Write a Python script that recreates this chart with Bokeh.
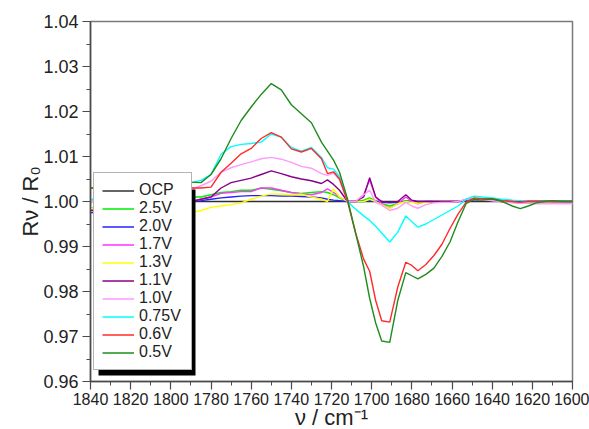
from bokeh.plotting import figure
from bokeh.models import Range1d, SingleIntervalTicker, PrintfTickFormatter
from bokeh.embed import file_html
from bokeh.resources import INLINE

# ---------------- data ----------------
wavenumber = [1840, 1830, 1820, 1810, 1800, 1795, 1790, 1785, 1780, 1775,
              1770, 1765, 1760, 1755, 1750, 1745, 1740, 1735, 1730, 1725,
              1722, 1719, 1716, 1712, 1708, 1704, 1701, 1698, 1695, 1691,
              1687, 1683, 1680, 1677, 1673, 1669, 1665, 1661, 1657, 1653,
              1649, 1645, 1640, 1635, 1630, 1626, 1622, 1618, 1614, 1610,
              1605, 1600]

ocp = [1.0, 1.0, 1.0, 1.0, 1.0, 1.0, 1.0, 1.0, 1.0, 1.0,
       1.0, 1.0, 1.0, 1.0, 1.0, 1.0, 1.0, 1.0, 1.0, 1.0,
       1.0, 1.0, 1.0, 1.0, 1.0, 1.0, 1.0, 1.0, 1.0, 1.0,
       1.0, 1.0, 1.0, 1.0, 1.0, 1.0, 1.0, 1.0, 1.0, 1.0,
       1.0, 1.0, 1.0, 1.0, 1.0, 1.0, 1.0, 1.0, 1.0, 1.0,
       1.0, 1.0]

v25 = [0.9985, 0.999, 0.9995, 1.0, 1.0005, 1.0008, 1.001, 1.001, 1.0015, 1.002,
       1.0022, 1.0025, 1.0025, 1.003, 1.0027, 1.0024, 1.002, 1.0018, 1.002, 1.0022,
       1.002, 1.0015, 1.0008, 1.0, 1.0, 1.0003, 1.0008, 1.0002, 0.9995, 0.999,
       0.9995, 1.0002, 1.0, 0.9998, 1.0, 1.0, 1.0, 1.0, 1.0, 1.0003,
       1.0006, 1.0005, 1.0004, 1.0002, 1.0, 0.9998, 1.0, 1.0, 1.0, 1.0,
       1.0, 1.0]

v20 = [0.9975, 0.998, 0.9985, 0.999, 0.9995, 0.9998, 1.0, 1.0002, 1.0005, 1.0008,
       1.001, 1.0012, 1.0013, 1.0013, 1.0013, 1.0012, 1.0012, 1.0011, 1.001, 1.0008,
       1.0005, 1.0003, 1.0002, 1.0, 1.0, 1.0, 1.0002, 1.0, 0.9998, 0.9997,
       0.9998, 1.0, 1.0, 1.0, 1.0, 1.0, 1.0, 1.0, 1.0, 1.0002,
       1.0004, 1.0003, 1.0002, 1.0, 1.0, 1.0, 1.0, 1.0, 1.0, 1.0,
       1.0, 1.0]

v17 = [0.998, 0.998, 0.9985, 0.9988, 0.999, 0.9995, 1.0, 1.0005, 1.001, 1.0018,
       1.002, 1.0022, 1.0022, 1.003, 1.003, 1.0025, 1.002, 1.0017, 1.0015, 1.002,
       1.0028, 1.002, 1.001, 1.0, 1.0, 1.0015, 1.0048, 1.001, 0.9995, 0.9985,
       0.9995, 1.001, 1.0, 0.9995, 1.0, 1.0, 1.0, 1.0, 1.0, 1.0004,
       1.0006, 1.0005, 1.0003, 1.0, 0.9998, 0.9997, 0.9998, 1.0, 1.0, 1.0,
       0.9998, 0.9998]

v13 = [0.9985, 0.998, 0.998, 0.998, 0.998, 0.9975, 0.9975, 0.998, 0.9987, 0.999,
       0.9993, 0.9997, 1.0005, 1.0012, 1.0017, 1.0016, 1.0015, 1.0016, 1.001, 1.0005,
       1.0, 1.0028, 1.001, 1.0, 1.0, 1.0, 1.0005, 1.0, 0.9993, 0.9984,
       0.9995, 1.0, 0.9998, 0.9996, 0.9998, 1.0, 1.0, 1.0, 1.0, 1.0003,
       1.0005, 1.0004, 1.0002, 1.0, 0.9998, 0.9996, 0.9998, 0.9998, 0.9998, 0.9997,
       0.9996, 0.9996]

v11 = [0.998, 0.9985, 0.999, 0.9995, 0.9998, 1.0, 1.0, 1.0005, 1.001, 1.003,
       1.0042, 1.0047, 1.0052, 1.006, 1.0068, 1.0062, 1.0055, 1.005, 1.0046, 1.004,
       1.0048, 1.0038, 1.0025, 1.0, 1.0, 1.001, 1.0053, 1.001, 1.0, 0.9998,
       1.0, 1.0015, 1.0003, 1.0, 1.0, 1.0, 1.0, 1.0, 1.0, 1.0003,
       1.0005, 1.0005, 1.0003, 1.0, 1.0, 1.0, 1.0, 1.0, 1.0, 1.0,
       1.0, 1.0]

v10 = [1.0, 1.0005, 1.001, 1.001, 1.0012, 1.002, 1.0027, 1.0035, 1.0045, 1.0065,
       1.0075, 1.0082, 1.0088, 1.0095, 1.0098, 1.0094, 1.0087, 1.0078, 1.0074, 1.0062,
       1.0058, 1.0063, 1.0048, 1.0, 1.0, 1.0015, 1.0025, 0.9998, 0.9992, 0.998,
       0.9985, 0.9998, 0.999, 0.9985, 0.9993, 0.9997, 0.9998, 0.9998, 1.0, 1.0005,
       1.0006, 1.0004, 1.0002, 1.0, 0.9997, 0.9996, 0.9996, 0.9995, 0.9995, 0.9995,
       0.9995, 0.9995]

v075 = [1.0005, 1.0005, 1.001, 1.002, 1.0035, 1.004, 1.0042, 1.0047, 1.006, 1.0105,
        1.0122, 1.0127, 1.0129, 1.0132, 1.015, 1.0143, 1.012, 1.0112, 1.012, 1.0098,
        1.0075, 1.0072, 1.0055, 1.0, 0.9983, 0.9968, 0.9958, 0.9945, 0.993, 0.991,
        0.9932, 0.9968, 0.9955, 0.9943, 0.995, 0.996, 0.997, 0.998, 0.999, 1.0005,
        1.0012, 1.001, 1.0008, 1.0005, 1.0003, 1.0002, 1.0, 1.0, 1.0, 1.0,
        1.0, 1.0]

v06 = [1.003, 1.003, 1.003, 1.003, 1.003, 1.003, 1.003, 1.003, 1.0032, 1.0065,
       1.0085, 1.0106, 1.0118, 1.014, 1.0153, 1.0143, 1.0117, 1.011, 1.0118, 1.0095,
       1.0062, 1.0066, 1.005, 1.0, 0.993, 0.9872, 0.9845, 0.978, 0.9735, 0.9732,
       0.981, 0.9865, 0.9858, 0.9846, 0.986, 0.988, 0.9905, 0.994, 0.9972, 0.9998,
       1.0008, 1.0006, 1.0006, 1.0002, 1.0, 0.9998, 1.0, 1.0, 1.0, 1.0,
       1.0, 1.0]

v05 = [1.003, 1.003, 1.003, 1.0035, 1.004, 1.0045, 1.0043, 1.0042, 1.006, 1.0095,
       1.014, 1.018, 1.021, 1.0238, 1.0262, 1.0248, 1.0215, 1.0195, 1.0175, 1.0132,
       1.0112, 1.0092, 1.0065, 1.0005, 0.993, 0.9855, 0.9785, 0.973, 0.969, 0.9687,
       0.978, 0.9842, 0.9835, 0.9828, 0.9838, 0.9852, 0.9878, 0.991, 0.9955, 0.9995,
       1.0005, 1.0003, 1.0006, 1.0, 0.999, 0.9984, 0.999, 0.9997, 1.0, 1.0002,
       1.0, 1.0]

labels = ["OCP", "2.5V", "2.0V", "1.7V", "1.3V", "1.1V", "1.0V", "0.75V", "0.6V", "0.5V"]
series = [ocp, v25, v20, v17, v13, v11, v10, v075, v06, v05]
colors = ["#303030", "#00ee00", "#2222ff", "#ff33ff", "#ffff00",
          "#880088", "#ff99ff", "#00ffff", "#ff2a2a", "#1e8c1e"]

x_ticks_interval = 20
y_ticks_interval = 0.01

# ---------------- figure ----------------
X0, X1 = 1840, 1600
Y0, Y1 = 0.96, 1.04
FW, FH = 482, 360

p = figure(width=589, height=429, frame_width=FW, frame_height=FH,
           x_range=Range1d(X0, X1), y_range=Range1d(Y0, Y1),
           output_backend="svg", toolbar_location=None,
           min_border_left=90, min_border_right=17, min_border_top=21, min_border_bottom=48)

p.xgrid.visible = False
p.ygrid.visible = False
p.outline_line_color = "#7a7a7a"
p.outline_line_width = 1.5
p.background_fill_color = "white"
p.border_fill_color = "white"

for ys, lab, col in zip(series, labels, colors):
    p.line(wavenumber, ys, color=col, line_width=1.4, legend_label=lab)

font = "Liberation Sans"
for ax in (p.xaxis[0], p.yaxis[0]):
    ax.axis_line_color = "#4a4a4a"
    ax.axis_line_width = 1.5
    ax.major_tick_line_color = "#4a4a4a"
    ax.minor_tick_line_color = "#4a4a4a"
    ax.major_tick_line_width = 1.2
    ax.minor_tick_line_width = 1.0
    ax.major_tick_in = 0
    ax.major_tick_out = 8
    ax.minor_tick_in = 0
    ax.minor_tick_out = 4
    ax.major_label_text_font = font
    ax.major_label_text_color = "#222222"
    ax.axis_label_text_font = font
    ax.axis_label_text_font_style = "normal"
    ax.axis_label_text_font_size = "22px"
    ax.axis_label_text_color = "#222222"

p.xaxis[0].major_label_text_font_size = "16px"
p.yaxis[0].major_label_text_font_size = "18px"
p.xaxis[0].ticker = SingleIntervalTicker(interval=x_ticks_interval, num_minor_ticks=2)
p.yaxis[0].ticker = SingleIntervalTicker(interval=y_ticks_interval, num_minor_ticks=2)
p.yaxis[0].formatter = PrintfTickFormatter(format="%.2f")
p.xaxis[0].major_label_standoff = 3
p.yaxis[0].major_label_standoff = 4
p.xaxis[0].axis_label = "ν / cm⁻¹"
p.yaxis[0].axis_label = "Rν / R₀"
p.xaxis[0].axis_label_standoff = -3
p.yaxis[0].axis_label_standoff = -3

# ---------------- legend ----------------
PAD, GW, GH, STAND, LW = 8, 32, 17, 5, 44
LX, LY = 3, 11
leg = p.legend[0]
leg.location = (LX, LY)
leg.margin = 0
leg.padding = PAD
leg.spacing = 0
leg.glyph_width = GW
leg.glyph_height = GH
leg.label_height = GH
leg.label_width = LW
leg.label_standoff = STAND
leg.label_text_font = font
leg.label_text_font_size = "16px"
leg.label_text_color = "#222222"
leg.border_line_color = "#6a6a6a"
leg.border_line_width = 1.5
leg.background_fill_color = "white"
leg.background_fill_alpha = 1.0

# drop shadow behind the legend (converted from frame pixels to data space)
LWID = 2 * PAD + GW + STAND + LW
LHGT = 2 * PAD + GH * len(labels)
SH = 5
def px2x(px):
    return X0 + (X1 - X0) * px / FW
def px2y(py):
    return Y0 + (Y1 - Y0) * py / FH
p.quad(left=[px2x(LX + SH)], right=[px2x(LX + LWID + SH)],
       bottom=[px2y(LY - SH)], top=[px2y(LY + LHGT - SH)],
       color="black", line_color=None)

open("out.html", "w").write(file_html(p, INLINE))
